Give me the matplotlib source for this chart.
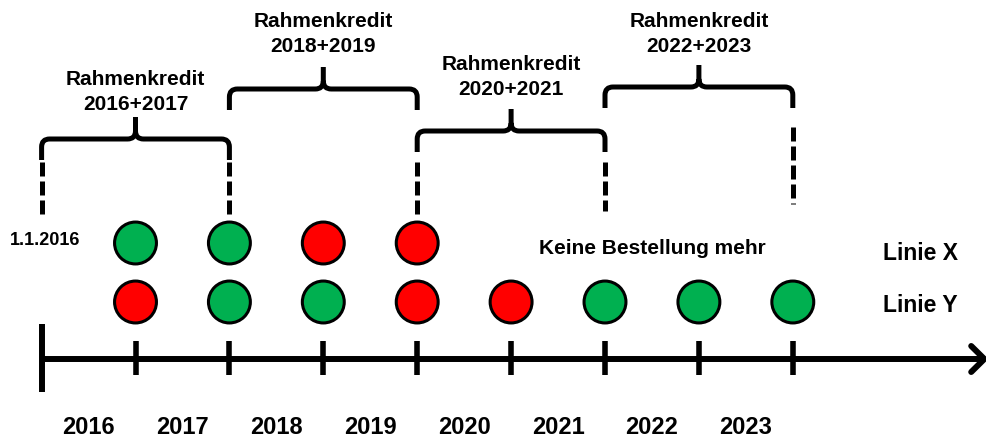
import matplotlib
matplotlib.use("Agg")
import matplotlib.pyplot as plt
from matplotlib.path import Path
from matplotlib.patches import PathPatch

plt.rcParams['font.family'] = ['Liberation Sans', 'DejaVu Sans']
plt.rcParams['font.weight'] = 'bold'

# Daten
years = ['2016', '2017', '2018', '2019', '2020', '2021', '2022', '2023']
linie_x = ['g', 'g', 'r', 'r']                          # Bestellungen Linie X (2016-2019)
linie_y = ['r', 'g', 'g', 'r', 'r', 'g', 'g', 'g']      # Bestellungen Linie Y (2016-2023)
rahmen_labels = ['2016+2017', '2018+2019', '2020+2021', '2022+2023']
rahmen_start = [0, 2, 4, 6]
rahmen_end = [2, 4, 6, 8]

colors = {'g': '#00B050', 'r': '#FF0000'}

# Layout (y in Pixelzeilen, x in Jahren)
px_per_year = 93.9
bracket_y = [140, 90, 132, 88]
title_base = [110, 52, 95, 52]
dash_x = [0, 2, 4, 6, 8]
dash_top = [163, 163, 163, 163, 128]
dash_bot = [220, 220, 220, 212, 205]
row_x, row_y, axis_y = 244, 303, 360

fig = plt.figure(figsize=(9.87, 4.39), dpi=100)
ax = fig.add_axes([0, 0, 1, 1])
ax.set_xlim(-41.6 / px_per_year, (987 - 41.6) / px_per_year)
ax.set_ylim(439, 0)
ax.axis('off')


def draw_bracket(x0, x1, yb, h_end=21, h_peak=22, r=8):
    rx = r / px_per_year
    xc = (x0 + x1) / 2
    verts = [(x0, yb + h_end), (x0, yb + r), (x0, yb), (x0 + rx, yb),
             (xc - rx, yb), (xc, yb), (xc, yb - r), (xc, yb - h_peak),
             (x1, yb + h_end), (x1, yb + r), (x1, yb), (x1 - rx, yb),
             (xc + rx, yb), (xc, yb), (xc, yb - r)]
    codes = [Path.MOVETO, Path.LINETO, Path.CURVE3, Path.CURVE3,
             Path.LINETO, Path.CURVE3, Path.CURVE3, Path.LINETO,
             Path.MOVETO, Path.LINETO, Path.CURVE3, Path.CURVE3,
             Path.LINETO, Path.CURVE3, Path.CURVE3]
    ax.add_patch(PathPatch(Path(verts, codes), fill=False, lw=3.6,
                           edgecolor='black', capstyle='butt', joinstyle='round'))


# Rahmenkredite
for i, lab in enumerate(rahmen_labels):
    x0, x1 = rahmen_start[i], rahmen_end[i]
    draw_bracket(x0, x1, bracket_y[i])
    xc = (x0 + x1) / 2
    ax.text(xc, title_base[i] - 25, 'Rahmenkredit', ha='center', va='baseline', fontsize=15)
    ax.text(xc, title_base[i], lab, ha='center', va='baseline', fontsize=15)

for x, y0, y1 in zip(dash_x, dash_top, dash_bot):
    ax.plot([x, x], [y0, y1], color='black', lw=3.6, linestyle=(0, (2.8, 1.0)),
            dash_capstyle='butt')

# Zeitachse
ax.plot([0, 10.03], [axis_y, axis_y], color='black', lw=4.3, solid_capstyle='butt')
ax.plot([9.90, 10.04, 9.90], [axis_y - 13, axis_y, axis_y + 13], color='black',
        lw=4.3, solid_capstyle='round', solid_joinstyle='round')
ax.plot([0, 0], [325, 393], color='black', lw=4.3, solid_capstyle='butt')
for i in range(1, len(years) + 1):
    ax.plot([i, i], [342, 376], color='black', lw=4.0, solid_capstyle='butt')

for i, yr in enumerate(years):
    ax.text(i + 0.5, 434, yr, ha='center', va='baseline', fontsize=17)

# Bestellungen
ax.scatter(range(1, len(linie_x) + 1), [row_x] * len(linie_x), s=910,
           c=[colors[c] for c in linie_x], edgecolors='black', linewidths=2.2, zorder=3)
ax.scatter(range(1, len(linie_y) + 1), [row_y] * len(linie_y), s=910,
           c=[colors[c] for c in linie_y], edgecolors='black', linewidths=2.2, zorder=3)

ax.text(0.04, 245, '1.1.2016', ha='center', va='baseline', fontsize=13)
ax.text(6.5, 254, 'Keine Bestellung mehr', ha='center', va='baseline', fontsize=15)
ax.text(8.96, 260, 'Linie X', ha='left', va='baseline', fontsize=16.5)
ax.text(8.96, 312, 'Linie Y', ha='left', va='baseline', fontsize=16.5)

fig.savefig('out.png', dpi=100)
